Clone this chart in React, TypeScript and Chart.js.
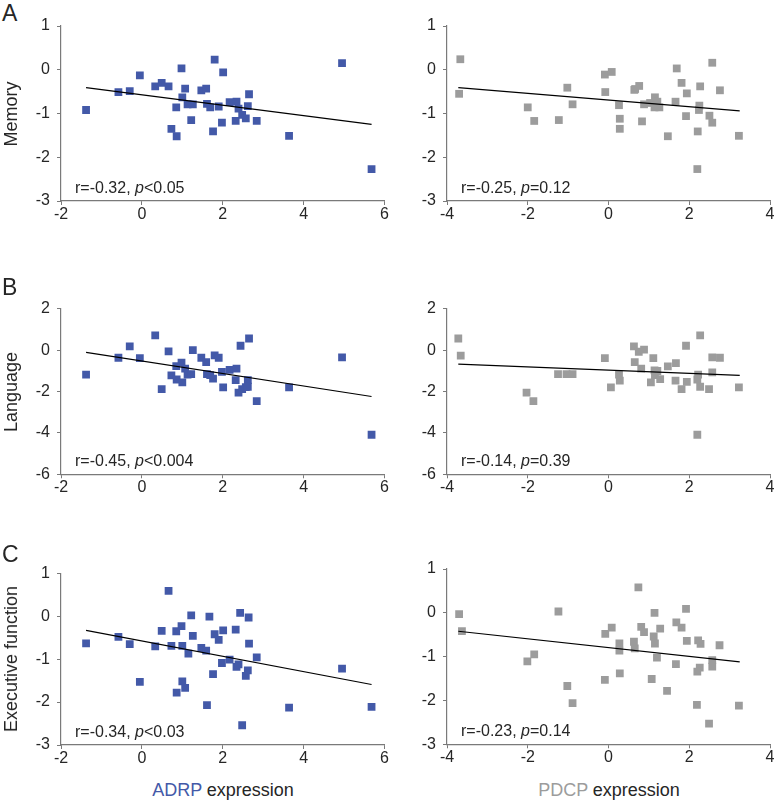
import React, { useEffect, useRef } from "react";
import { Chart, registerables } from "chart.js";

Chart.register(...registerables);

const FONT = '"Liberation Sans", Arial, Helvetica, sans-serif';
const BLUE = "#4359a8";
const GRAY = "#9c9c9c";
const TEXT = "#262626";
const AXIS = "#7a7a7a";

// ---- Memory ----
const memAdrpX = [-1.38, -0.58, -0.3, -0.05, 0.33, 0.49, 0.66, 0.98, 1.07, 1.0, 0.85, 0.73, 0.86, 1.13, 1.26, 1.22, 1.47, 1.59, 1.61, 1.69, 1.8, 1.9, 2.01, 1.76, 1.98, 2.17, 2.34, 2.39, 2.32, 2.48, 2.57, 2.62, 2.65, 2.84, 3.64, 4.95, 5.68];
const memAdrpY = [-0.92, -0.51, -0.49, -0.13, -0.38, -0.3, -0.38, 0.03, -0.43, -0.63, -0.86, -1.35, -1.52, -0.79, -0.79, -1.15, -0.47, -0.43, -0.78, -0.86, 0.23, -0.84, -0.06, -1.41, -1.21, -0.74, -0.73, -0.89, -1.17, -1.03, -1.11, -0.83, -0.56, -1.17, -1.51, 0.15, -2.27];
const memPdcpX = [-3.67, -3.7, -2.0, -1.84, -1.23, -1.02, -0.89, -0.09, 0.08, -0.08, 0.26, 0.28, 0.28, 0.64, 0.76, 0.66, 0.83, 0.88, 1.03, 1.15, 1.14, 1.26, 1.21, 1.47, 1.69, 1.66, 1.81, 1.94, 1.92, 2.27, 2.25, 2.24, 2.21, 2.2, 2.5, 2.57, 2.57, 2.76, 3.23];
const memPdcpY = [0.24, -0.55, -0.86, -1.17, -1.15, -0.41, -0.79, -0.11, -0.05, -0.51, -0.81, -1.12, -1.35, -0.46, -0.37, -0.44, -1.18, -0.79, -0.76, -0.63, -0.86, -0.86, -0.73, -1.52, 0.03, -0.73, -0.3, -0.54, -1.06, -0.38, -0.82, -0.92, -1.41, -2.27, -1.05, -1.21, 0.16, -0.47, -1.51];

// ---- Language ----
const langAdrpX = [-1.38, -0.58, -0.3, -0.05, 0.33, 0.49, 0.66, 0.73, 0.85, 0.86, 0.98, 1.0, 1.07, 1.13, 1.22, 1.26, 1.47, 1.59, 1.61, 1.69, 1.76, 1.8, 1.9, 1.98, 2.01, 2.17, 2.34, 2.32, 2.39, 2.44, 2.48, 2.57, 2.62, 2.65, 2.62, 2.84, 3.64, 4.95, 5.68];
const langAdrpY = [-1.18, -0.37, 0.18, -0.39, 0.71, -1.88, -0.06, -1.22, -0.77, -1.42, -0.61, -1.56, -0.89, -1.18, -1.16, 0.0, -0.37, -0.58, -1.16, -1.21, -1.38, -0.26, -0.37, -1.05, -1.8, -0.95, -0.9, -1.45, -2.05, 0.21, -1.88, -1.79, -1.45, 0.56, -1.77, -2.46, -1.8, -0.35, -4.09];
const langPdcpX = [-3.72, -3.66, -2.03, -1.86, -1.25, -1.04, -0.89, -0.09, 0.06, 0.26, 0.28, 0.63, 0.65, 0.75, 0.88, 0.81, 1.05, 1.11, 1.14, 1.15, 1.21, 1.28, 1.47, 1.67, 1.66, 1.81, 1.92, 1.94, 2.22, 2.2, 2.27, 2.27, 2.2, 2.49, 2.57, 2.57, 2.76, 3.23];
const langPdcpY = [0.56, -0.27, -2.05, -2.46, -1.16, -1.16, -1.16, -0.39, -1.8, -1.19, -1.47, 0.18, -0.58, -0.08, 0.02, -0.89, -1.56, -0.39, -0.98, -1.21, -1.01, -1.4, -0.79, -0.63, -1.47, -1.88, 0.21, -1.53, -1.19, -1.42, 0.71, -1.77, -4.09, -1.88, -1.08, -0.35, -0.37, -1.8];

// ---- Executive function ----
const execAdrpX = [-1.38, -0.58, -0.3, -0.05, 0.33, 0.49, 0.66, 0.73, 0.85, 0.86, 0.98, 1.0, 1.0, 1.07, 1.15, 1.22, 1.26, 1.47, 1.59, 1.61, 1.67, 1.76, 1.8, 1.9, 1.98, 2.01, 2.17, 2.32, 2.34, 2.39, 2.43, 2.48, 2.57, 2.62, 2.64, 2.65, 2.84, 3.64, 4.95, 5.68];
const execAdrpY = [-0.63, -0.48, -0.65, -1.53, -0.7, -0.34, 0.59, -0.69, -0.35, -1.78, -0.23, -0.69, -1.52, -1.67, -0.87, 0.02, -0.46, -0.74, -0.8, -2.07, -0.01, -1.35, -0.42, -0.55, -1.09, -0.33, -1.01, -0.31, -1.18, -1.12, 0.08, -2.54, -1.39, -1.26, -0.03, -0.64, -0.96, -2.13, -1.22, -2.11];
const execPdcpX = [-3.7, -3.63, -2.01, -1.84, -1.24, -1.02, -0.89, -0.09, -0.08, 0.08, 0.27, 0.27, 0.28, 0.63, 0.65, 0.74, 0.81, 0.88, 1.07, 1.12, 1.14, 1.15, 1.2, 1.28, 1.45, 1.67, 1.68, 1.81, 1.92, 1.94, 2.22, 2.28, 2.2, 2.26, 2.19, 2.49, 2.57, 2.57, 2.75, 3.23];
const execPdcpY = [-0.03, -0.42, -1.11, -0.95, 0.03, -1.67, -2.06, -1.53, -0.48, -0.34, -0.7, -0.86, -1.38, -0.66, -0.81, 0.58, -0.32, -0.44, -1.51, -0.54, 0.0, -0.7, -1.02, -0.36, -1.78, -1.17, -0.22, -0.34, 0.09, -0.64, -0.63, -0.71, -1.34, -1.25, -2.1, -2.53, -1.08, -1.23, -0.74, -2.12];

// ---- Regression lines (endpoints) ----
const adrpFitX = [-1.38, 5.68];
const pdcpFitX = [-3.72, 3.25];
const memAdrpFitY = [-0.41, -1.25];
const memPdcpFitY = [-0.41, -0.94];
const langAdrpFitY = [-0.11, -2.24];
const langPdcpFitY = [-0.68, -1.22];
const execAdrpFitY = [-0.33, -1.59];
const execPdcpFitY = [-0.42, -1.12];

// ---- Axis ranges ----
const adrpRange = [-2, 6];
const pdcpRange = [-4, 4];
const memRange = [-3, 1];
const langRange = [-6, 2];
const execRange = [-3, 1];

// ---- Text ----
const rowLetters = ["A", "B", "C"];
const rowTitles = ["Memory", "Language", "Executive function"];
const adrpStats = [["-0.32", "<0.05"], ["-0.45", "<0.004"], ["-0.34", "<0.03"]];
const pdcpStats = [["-0.25", "=0.12"], ["-0.14", "=0.39"], ["-0.23", "=0.14"]];

type PanelProps = {
  left: number;
  width: number;
  plotTop: number;
  plotBottom: number;
  yAxisW: number;
  rightPad: number;
  xs: number[];
  ys: number[];
  fitX: number[];
  fitY: number[];
  xRange: number[];
  yRange: number[];
  yStep: number;
  color: string;
};

const TOP_PAD = 26;
const X_AXIS_H = 30;

function Panel(p: PanelProps) {
  const ref = useRef<HTMLCanvasElement | null>(null);
  const canvasTop = Math.round(p.plotTop - TOP_PAD);
  const topPad = p.plotTop - canvasTop;
  const height = Math.round(p.plotBottom + X_AXIS_H - canvasTop);
  const xAxisH = canvasTop + height - p.plotBottom;
  useEffect(() => {
    if (!ref.current) return;
    const tickFont = { family: FONT, size: 16 };
    const chart = new Chart(ref.current, {
      type: "scatter",
      data: {
        datasets: [
          {
            type: "line",
            data: p.fitX.map((x, i) => ({ x, y: p.fitY[i] })),
            borderColor: "#000000",
            borderWidth: 1.2,
            pointRadius: 0,
            showLine: true,
            fill: false,
            order: 0,
          } as any,
          {
            data: p.xs.map((x, i) => ({ x, y: p.ys[i] })),
            pointStyle: "rect",
            pointRadius: 5.5,
            pointHoverRadius: 5.5,
            backgroundColor: p.color,
            borderColor: p.color,
            borderWidth: 0,
            order: 1,
          } as any,
        ],
      },
      options: {
        animation: false,
        responsive: false,
        maintainAspectRatio: false,
        events: [],
        layout: { padding: { top: topPad, right: p.rightPad, left: 0, bottom: 0 } },
        plugins: { legend: { display: false }, tooltip: { enabled: false } },
        scales: {
          x: {
            type: "linear",
            min: p.xRange[0],
            max: p.xRange[1],
            ticks: { stepSize: 2, font: tickFont, color: TEXT, padding: 0 },
            grid: { drawOnChartArea: false, drawTicks: true, tickLength: 4, color: AXIS },
            border: { display: true, color: AXIS, width: 1.2 },
            afterFit: (s: any) => {
              s.height = xAxisH;
            },
          },
          y: {
            type: "linear",
            min: p.yRange[0],
            max: p.yRange[1],
            ticks: { stepSize: p.yStep, font: tickFont, color: TEXT, padding: 7 },
            grid: { drawOnChartArea: false, drawTicks: true, tickLength: 4, color: AXIS },
            border: { display: true, color: AXIS, width: 1.2 },
            afterFit: (s: any) => {
              s.width = p.yAxisW;
            },
          },
        },
      } as any,
    });
    return () => chart.destroy();
  }, []);
  return (
    <canvas
      ref={ref}
      width={p.width}
      height={height}
      style={{ position: "absolute", left: p.left, top: canvasTop, width: p.width, height }}
    />
  );
}

const LEFT_CANVAS = 14;
const LEFT_W = 376;
const LEFT_AXIS = 61;
const RIGHT_CANVAS = 396;
const RIGHT_W = 380;
const RIGHT_AXIS = 447;

const rows = [
  { top: 26, bottom: 201, topR: 26, bottomR: 201, yRange: memRange, yStep: 1,
    ax: memAdrpX, ay: memAdrpY, px: memPdcpX, py: memPdcpY, afy: memAdrpFitY, pfy: memPdcpFitY, letterTop: 2 },
  { top: 308.7, bottom: 474.3, topR: 308.7, bottomR: 474.3, yRange: langRange, yStep: 2,
    ax: langAdrpX, ay: langAdrpY, px: langPdcpX, py: langPdcpY, afy: langAdrpFitY, pfy: langPdcpFitY, letterTop: 276 },
  { top: 573.3, bottom: 745, topR: 569, bottomR: 744.3, yRange: execRange, yStep: 1,
    ax: execAdrpX, ay: execAdrpY, px: execPdcpX, py: execPdcpY, afy: execAdrpFitY, pfy: execPdcpFitY, letterTop: 543 },
];

function Stat({ left, cy, r, p }: { left: number; cy: number; r: string; p: string }) {
  return (
    <div
      style={{
        position: "absolute",
        left,
        top: Math.round(cy - 8),
        fontFamily: FONT,
        fontSize: 16,
        color: TEXT,
        whiteSpace: "nowrap",
        lineHeight: "16px",
      }}
    >
      r={r}, <i>p</i>
      {p}
    </div>
  );
}

export default function App() {
  return (
    <div
      style={{
        position: "fixed",
        left: 0,
        top: 0,
        width: 776,
        height: 802,
        background: "#fff",
        overflow: "hidden",
      }}
    >
      {rows.map((row, i) => (
        <React.Fragment key={i}>
          <div
            style={{
              position: "absolute",
              left: 2,
              top: row.letterTop,
              fontFamily: FONT,
              fontSize: 23,
              color: TEXT,
              lineHeight: 1,
            }}
          >
            {rowLetters[i]}
          </div>
          <Panel
            left={LEFT_CANVAS}
            width={LEFT_W}
            plotTop={row.top}
            plotBottom={row.bottom}
            yAxisW={LEFT_AXIS - LEFT_CANVAS}
            rightPad={5}
            xs={row.ax}
            ys={row.ay}
            fitX={adrpFitX}
            fitY={row.afy}
            xRange={adrpRange}
            yRange={row.yRange}
            yStep={row.yStep}
            color={BLUE}
          />
          <Panel
            left={RIGHT_CANVAS}
            width={RIGHT_W}
            plotTop={row.topR}
            plotBottom={row.bottomR}
            yAxisW={RIGHT_AXIS - RIGHT_CANVAS}
            rightPad={6}
            xs={row.px}
            ys={row.py}
            fitX={pdcpFitX}
            fitY={row.pfy}
            xRange={pdcpRange}
            yRange={row.yRange}
            yStep={row.yStep}
            color={GRAY}
          />
          <div
            style={{
              position: "absolute",
              left: 11,
              top: Math.round((row.top + row.bottom) / 2),
              transform: "translate(-50%, -50%) rotate(-90deg)",
              fontFamily: FONT,
              fontSize: 18,
              color: TEXT,
              whiteSpace: "nowrap",
              lineHeight: 1,
            }}
          >
            {rowTitles[i]}
          </div>
          <Stat left={LEFT_AXIS + 14} cy={row.bottom - 13} r={adrpStats[i][0]} p={adrpStats[i][1]} />
          <Stat left={RIGHT_AXIS + 14} cy={row.bottomR - 13} r={pdcpStats[i][0]} p={pdcpStats[i][1]} />
        </React.Fragment>
      ))}
      <div
        style={{
          position: "absolute",
          left: 223,
          top: 790,
          transform: "translate(-50%, -50%)",
          fontFamily: FONT,
          fontSize: 18,
          color: TEXT,
          whiteSpace: "nowrap",
          lineHeight: 1,
        }}
      >
        <span style={{ color: BLUE }}>ADRP</span> expression
      </div>
      <div
        style={{
          position: "absolute",
          left: 609,
          top: 790,
          transform: "translate(-50%, -50%)",
          fontFamily: FONT,
          fontSize: 18,
          color: TEXT,
          whiteSpace: "nowrap",
          lineHeight: 1,
        }}
      >
        <span style={{ color: GRAY }}>PDCP</span> expression
      </div>
    </div>
  );
}
